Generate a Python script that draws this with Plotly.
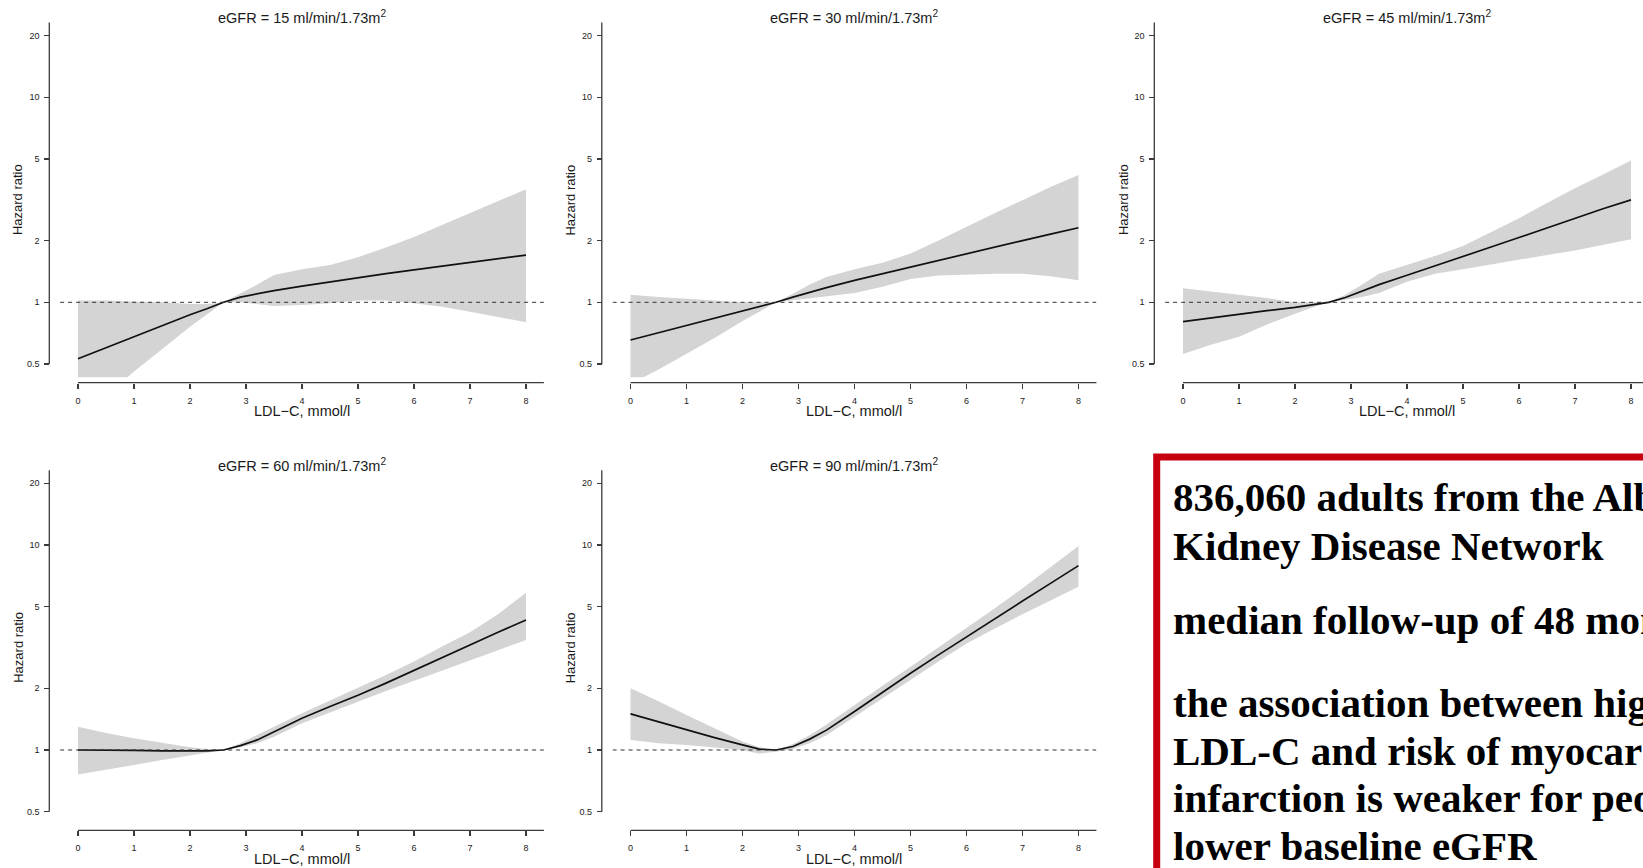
import math
import plotly.graph_objects as go

# ---------------- data ----------------
LDL = [0, 0.5, 1, 1.5, 2, 2.3, 2.6, 2.9, 3.2, 3.5, 4, 4.5, 5, 5.5, 6, 6.5, 7, 7.5, 8]

EGFR = ["15", "30", "45", "60", "90"]

hr_15 = [0.53, 0.60, 0.68, 0.77, 0.87, 0.93, 1.0, 1.06, 1.10, 1.14, 1.20, 1.26, 1.32, 1.38, 1.44, 1.50, 1.56, 1.63, 1.70]
hi_15 = [1.02, 1.02, 1.01, 1.0, 0.98, 0.98, 1.0, 1.10, 1.22, 1.36, 1.45, 1.52, 1.66, 1.85, 2.08, 2.38, 2.72, 3.10, 3.56]
lo_15 = [0.30, 0.35, 0.46, 0.59, 0.76, 0.87, 1.0, 1.0, 0.98, 0.96, 0.97, 0.99, 1.02, 1.02, 0.99, 0.95, 0.90, 0.85, 0.80]

hr_30 = [0.655, 0.71, 0.77, 0.84, 0.91, 0.955, 1.0, 1.06, 1.12, 1.18, 1.28, 1.38, 1.49, 1.60, 1.72, 1.86, 2.0, 2.15, 2.31]
hi_30 = [1.09, 1.06, 1.04, 1.02, 1.0, 1.0, 1.0, 1.10, 1.22, 1.33, 1.45, 1.56, 1.73, 2.0, 2.34, 2.72, 3.15, 3.65, 4.18]
lo_30 = [0.40, 0.47, 0.56, 0.67, 0.81, 0.90, 1.0, 1.03, 1.05, 1.07, 1.11, 1.19, 1.30, 1.35, 1.37, 1.38, 1.38, 1.34, 1.28]

hr_45 = [0.805, 0.84, 0.874, 0.91, 0.945, 0.97, 1.0, 1.055, 1.13, 1.22, 1.355, 1.51, 1.67, 1.86, 2.07, 2.31, 2.57, 2.86, 3.16]
hi_45 = [1.17, 1.13, 1.09, 1.05, 1.0, 1.0, 1.0, 1.09, 1.22, 1.38, 1.52, 1.68, 1.88, 2.2, 2.57, 3.05, 3.6, 4.2, 4.92]
lo_45 = [0.56, 0.62, 0.68, 0.78, 0.88, 0.94, 1.0, 1.03, 1.06, 1.11, 1.26, 1.38, 1.45, 1.53, 1.61, 1.70, 1.79, 1.90, 2.03]

hr_60 = [1.0, 1.0, 0.995, 0.99, 0.99, 0.99, 1.0, 1.05, 1.12, 1.23, 1.43, 1.63, 1.85, 2.12, 2.45, 2.82, 3.25, 3.75, 4.31]
hi_60 = [1.30, 1.21, 1.14, 1.08, 1.03, 1.01, 1.0, 1.08, 1.18, 1.30, 1.51, 1.74, 2.0, 2.32, 2.70, 3.2, 3.75, 4.6, 5.85]
lo_60 = [0.76, 0.80, 0.845, 0.895, 0.945, 0.975, 1.0, 1.03, 1.08, 1.16, 1.35, 1.53, 1.72, 1.94, 2.19, 2.45, 2.74, 3.07, 3.44]

hr_90 = [1.50, 1.37, 1.25, 1.15, 1.06, 1.01, 1.0, 1.04, 1.13, 1.25, 1.54, 1.92, 2.37, 2.91, 3.57, 4.37, 5.33, 6.5, 7.93]
hi_90 = [2.0, 1.73, 1.48, 1.27, 1.10, 1.03, 1.0, 1.07, 1.18, 1.33, 1.66, 2.06, 2.55, 3.16, 3.92, 4.9, 6.15, 7.8, 9.88]
lo_90 = [1.12, 1.08, 1.057, 1.03, 1.0, 0.96, 0.98, 1.01, 1.08, 1.18, 1.45, 1.78, 2.19, 2.7, 3.31, 3.9, 4.6, 5.35, 6.25]

X_TICKS = [0, 1, 2, 3, 4, 5, 6, 7, 8]
Y_TICKS = [0.5, 1, 2, 5, 10, 20]
Y_TICK_TEXT = ["0.5", "1", "2", "5", "10", "20"]

BOX_LINES = [
    "836,060 adults from the Alberta",
    "Kidney Disease Network",
    "median follow-up of 48 months",
    "the association between higher",
    "LDL-C and risk of myocardial",
    "infarction is weaker for people with",
    "lower baseline eGFR",
]

series = [(hr_15, lo_15, hi_15), (hr_30, lo_30, hi_30), (hr_45, lo_45, hi_45),
          (hr_60, lo_60, hi_60), (hr_90, lo_90, hi_90)]

# ---------------- layout geometry (pixels) ----------------
W, H = 1643, 868
def px(x):
    return x / W
def py(y):
    return 1 - y / H

COL_X0 = [78.0, 630.5, 1183.0]     # pixel of LDL = 0
ROW_Y1 = [302.3, 750.0]            # pixel of HR = 1
UNIT = 56.0                        # px per mmol/l
DEC = 205.0                        # px per decade
XLO, XHI = -0.32, 8.32
YLO = math.log10(0.5) - 0.0641
YHI = math.log10(20) + 0.0641
YAX_OFF = 28.7                     # y-axis line left of LDL=0
XAX_OFF = 80.4                     # x-axis line below HR=1

AX_COL = "#3a3a3a"
TXT_COL = "#1a1a1a"
SANS = "Liberation Sans, Arial, Helvetica, sans-serif"

fig = go.Figure()
layout = dict(width=W, height=H, margin=dict(l=0, r=0, t=0, b=0),
              paper_bgcolor="white", plot_bgcolor="white", showlegend=False,
              autosize=False)
shapes = []
annotations = []

positions = [(0, 0), (0, 1), (0, 2), (1, 0), (1, 1)]
for i, ((r, c), (hr, lo, hi)) in enumerate(zip(positions, series)):
    n = i + 1
    xs = "" if n == 1 else str(n)
    x0 = COL_X0[c]
    y1 = ROW_Y1[r]
    left_px = x0 + XLO * UNIT
    right_px = min(x0 + XHI * UNIT, W)
    xhi = (right_px - x0) / UNIT
    top_px = y1 - YHI * DEC
    bot_px = y1 - YLO * DEC
    yaxis_x = x0 - YAX_OFF
    xaxis_y = y1 + XAX_OFF

    layout["xaxis" + xs] = dict(
        domain=[px(left_px), px(right_px)], range=[XLO, xhi],
        anchor="free", position=py(xaxis_y), showgrid=False, zeroline=False,
        showline=False, ticks="outside", ticklen=5, tickwidth=1.2, tickcolor=AX_COL,
        tickvals=X_TICKS, ticktext=[str(t) for t in X_TICKS],
        tickfont=dict(family=SANS, size=9, color=TXT_COL), ticklabelstandoff=4,
        fixedrange=True,
    )
    layout["yaxis" + xs] = dict(
        domain=[py(bot_px), py(top_px)], type="log", range=[YLO, YHI],
        anchor="free", position=px(yaxis_x), showgrid=False, zeroline=False,
        showline=False, ticks="outside", ticklen=5, tickwidth=1.2, tickcolor=AX_COL,
        tickvals=Y_TICKS, ticktext=Y_TICK_TEXT,
        tickfont=dict(family=SANS, size=9, color=TXT_COL), ticklabelstandoff=3,
        fixedrange=True,
    )

    xa = "x" + xs
    ya = "y" + xs
    # confidence band
    fig.add_trace(go.Scatter(
        x=LDL + LDL[::-1], y=hi + lo[::-1], xaxis=xa, yaxis=ya,
        mode="lines", fill="toself", fillcolor="#d4d4d4",
        line=dict(width=0, color="rgba(0,0,0,0)"), hoverinfo="skip"))
    # hazard ratio curve
    fig.add_trace(go.Scatter(
        x=LDL, y=hr, xaxis=xa, yaxis=ya, mode="lines",
        line=dict(color="#111111", width=1.7)))
    # reference line HR = 1
    fig.add_trace(go.Scatter(
        x=[XLO, xhi], y=[1, 1], xaxis=xa, yaxis=ya, mode="lines",
        line=dict(color="#333333", width=1, dash="4px,4px"), hoverinfo="skip"))

    # axis lines (R style, detached)
    shapes.append(dict(type="line", xref="paper", yref=ya + " domain",
                       x0=px(yaxis_x), x1=px(yaxis_x),
                       y0=(math.log10(0.5) - YLO) / (YHI - YLO), y1=1,
                       line=dict(color=AX_COL, width=1.3)))
    shapes.append(dict(type="line", xref=xa + " domain", yref="paper",
                       x0=(0 - XLO) / (xhi - XLO), x1=1,
                       y0=py(xaxis_y), y1=py(xaxis_y),
                       line=dict(color=AX_COL, width=1.3)))

    cx = (left_px + x0 + XHI * UNIT) / 2
    cy = (top_px + bot_px) / 2
    annotations.append(dict(
        text="eGFR = " + EGFR[i] + " ml/min/1.73m<sup>2</sup>",
        xref="paper", yref="paper", x=px(cx), y=py(y1 - 285.5),
        xanchor="center", yanchor="middle", showarrow=False,
        font=dict(family=SANS, size=14.5, color=TXT_COL)))
    annotations.append(dict(
        text="LDL\u2212C, mmol/l", xref="paper", yref="paper",
        x=px(cx), y=py(y1 + 109.0), xanchor="center", yanchor="middle",
        showarrow=False, font=dict(family=SANS, size=14.5, color=TXT_COL)))
    annotations.append(dict(
        text="Hazard ratio", xref="paper", yref="paper",
        x=px(x0 - 59.7), y=py(cy), xanchor="center", yanchor="middle",
        textangle=-90, showarrow=False,
        font=dict(family=SANS, size=13, color=TXT_COL)))

# red-bordered text box (extends past the picture edge)
shapes.append(dict(type="rect", xref="paper", yref="paper",
                   x0=px(1156.7), x1=px(1760), y0=py(457), y1=py(960),
                   line=dict(color="#c6000f", width=7), fillcolor="rgba(0,0,0,0)"))
BASELINES = [511, 559.3, 634, 716.7, 765, 811.7, 860]
for line, base in zip(BOX_LINES, BASELINES):
    annotations.append(dict(
        text="<b>" + line + "</b>", xref="paper", yref="paper",
        x=px(1170.5), y=py(base - 13.8), xanchor="left", yanchor="middle",
        showarrow=False, align="left",
        font=dict(family="Liberation Serif, Times New Roman, serif", size=41, color="black")))

layout["shapes"] = shapes
layout["annotations"] = annotations
fig.update_layout(**layout)

fig.write_html("out.html",
               config={"displayModeBar": False, "staticPlot": True},
               post_script="document.body.style.margin='0px';document.body.style.overflow='hidden';")
